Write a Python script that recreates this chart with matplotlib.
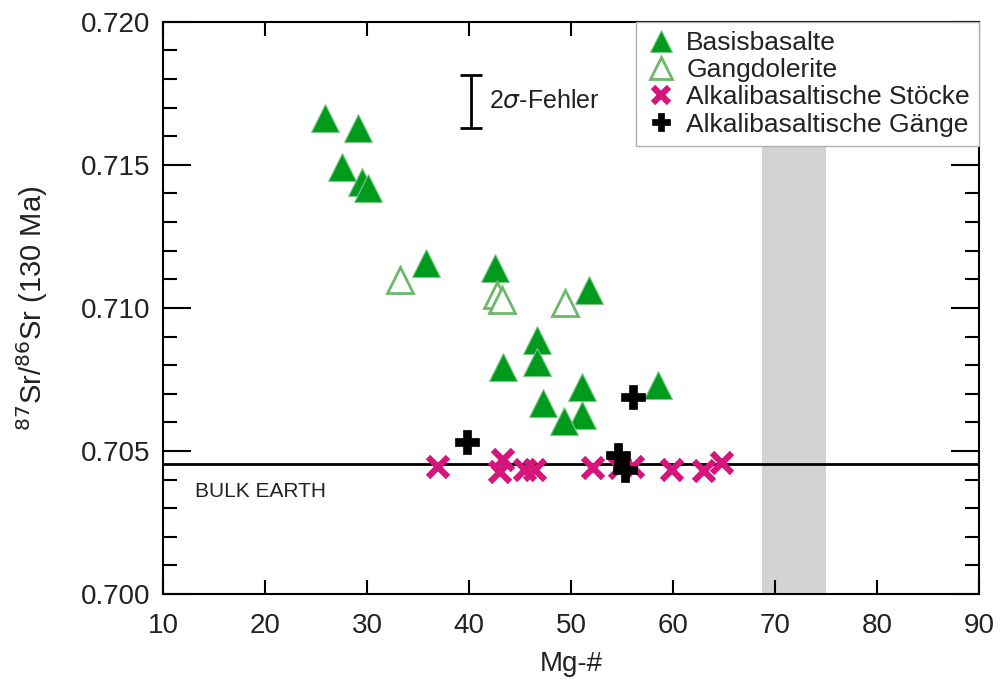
import matplotlib
matplotlib.use("Agg")
import matplotlib.pyplot as plt

plt.rcParams["font.family"] = ["Liberation Sans", "DejaVu Sans"]

# Basisbasalte (filled triangles)
basalt_mg = [25.9, 29.1, 27.5, 29.5, 30.1, 35.8, 42.5, 51.8, 46.7, 46.7, 43.3, 51.1, 47.3, 58.5, 51.1, 49.3]
basalt_sr = [0.71664, 0.71629, 0.71493, 0.71441, 0.71420, 0.71157, 0.71140, 0.71063,
             0.70888, 0.70811, 0.70794, 0.70724, 0.70668, 0.70731, 0.70626, 0.70605]

# Gangdolerite (open triangles)
dolerite_mg = [33.2, 42.7, 43.2, 49.4]
dolerite_sr = [0.71098, 0.71045, 0.71028, 0.71017]

# Alkalibasaltische Stöcke (crosses)
stock_mg = [37.0, 43.3, 43.0, 45.5, 46.5, 52.2, 54.8, 56.1, 59.9, 63.0, 64.8]
stock_sr = [0.70444, 0.70469, 0.70427, 0.70434, 0.70434, 0.70440, 0.70440, 0.70444, 0.70434, 0.70430, 0.70458]

# Alkalibasaltische Gänge (plus)
dyke_mg = [39.8, 54.6, 55.3, 56.1]
dyke_sr = [0.70531, 0.70486, 0.70434, 0.70689]

bulk_earth = 0.70455
band_mg = (68.7, 75.0)
err_mg = 40.2
err_sr = (0.71629, 0.71815)

green = "#009a1c"
pink = "#d6157c"

fig = plt.figure(figsize=(10, 6.82), dpi=100)
ax = fig.add_axes([0.163, 0.129, 0.816, 0.839])

ax.axvspan(band_mg[0], band_mg[1], color="#d3d3d3", lw=0, zorder=0)
ax.axhline(bulk_earth, color="black", lw=2, zorder=1)
ax.text(13.1, 0.7036, "BULK EARTH", fontsize=15, va="center", ha="left", color="#222222")

ax.plot(stock_mg, stock_sr, ls="none", marker="x", ms=15, mew=4.5, color=pink,
        label="Alkalibasaltische Stöcke", zorder=3)
ax.plot(basalt_mg, basalt_sr, ls="none", marker="^", ms=20, mfc=green, mec="#7fc98a",
        mew=0.8, label="Basisbasalte", zorder=4)
ax.plot(dolerite_mg, dolerite_sr, ls="none", marker="^", ms=19, mfc="white", mec="#6db86d",
        mew=2, label="Gangdolerite", zorder=4)
ax.plot(dyke_mg, dyke_sr, ls="none", marker="P", ms=17, mfc="black", mec="black", mew=0.5,
        label="Alkalibasaltische Gänge", zorder=5)

# 2 sigma error bar
ax.errorbar([err_mg], [sum(err_sr) / 2], yerr=[(err_sr[1] - err_sr[0]) / 2],
            color="black", capsize=8, capthick=2, elinewidth=2)
ax.text(42.0, sum(err_sr) / 2, "2$\\sigma$-Fehler", fontsize=18, va="center", ha="left",
        color="#222222")

ax.set_xlim(10, 90)
ax.set_ylim(0.700, 0.720)
ax.set_xticks(range(10, 91, 10))
ax.set_yticks([0.700, 0.705, 0.710, 0.715, 0.720])
ax.set_yticks([0.700 + 0.001 * i for i in range(21)], minor=True)
ax.set_yticklabels(["0.700", "0.705", "0.710", "0.715", "0.720"])
ax.tick_params(axis="x", which="major", direction="in", length=10, width=1.5,
               top=True, labelsize=20, pad=14, labelcolor="#222222")
ax.tick_params(axis="y", which="major", direction="in", length=20, width=1.5,
               right=True, labelsize=20, pad=9, labelcolor="#222222")
ax.tick_params(axis="y", which="minor", direction="in", length=10, width=1.5, right=True)
ax.tick_params(axis="x", which="minor", bottom=False, top=False)
for s in ax.spines.values():
    s.set_linewidth(1.5)

ax.set_xlabel("Mg-#", fontsize=20, labelpad=8, color="#222222")
ax.set_ylabel("$^{87}$Sr/$^{86}$Sr (130 Ma)", fontsize=21, labelpad=22, color="#222222")

handles, labels = ax.get_legend_handles_labels()
order = [1, 2, 0, 3]
leg = ax.legend([handles[i] for i in order], [labels[i] for i in order],
                loc="upper right", borderaxespad=0, fontsize=19, fancybox=False,
                edgecolor="#b0b0b0", framealpha=1, handletextpad=0.35,
                labelspacing=0.12, markerscale=0.8, handlelength=1.2,
                borderpad=0.35)
leg.get_frame().set_linewidth(1)
for t in leg.get_texts():
    t.set_color("#222222")

fig.savefig("out.png", dpi=100)
